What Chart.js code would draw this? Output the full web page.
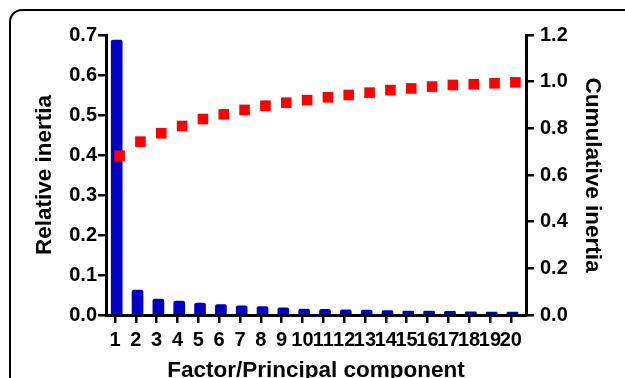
<!DOCTYPE html>
<html>
<head>
<meta charset="utf-8">
<script src="https://cdn.jsdelivr.net/npm/chart.js@4"></script>
<style>
  body { margin: 0; background: #fff; overflow: hidden; }
  #wrap { position: relative; width: 625px; height: 378px; overflow: hidden; }
  #frame {
    position: absolute; left: 9px; top: 9px; width: 660px; height: 420px;
    border: 2px solid #000; border-radius: 13px;
  }
  #chart { position: absolute; left: 0; top: 0; }
</style>
</head>
<body>
<div id="wrap">
  <div id="frame"></div>
  <canvas id="chart" width="625" height="378"></canvas>
</div>
<script>
const factors = [1, 2, 3, 4, 5, 6, 7, 8, 9, 10, 11, 12, 13, 14, 15, 16, 17, 18, 19, 20];
const relativeInertia = [0.687, 0.062, 0.040, 0.035, 0.030, 0.026, 0.023, 0.021, 0.018, 0.015,
                         0.014, 0.013, 0.012, 0.011, 0.010, 0.010, 0.009, 0.008, 0.007, 0.007];
const cumulativeInertia = [0.683, 0.743, 0.779, 0.810, 0.840, 0.860, 0.879, 0.897, 0.910, 0.921,
                           0.933, 0.943, 0.953, 0.964, 0.971, 0.979, 0.986, 0.989, 0.993, 0.997];
const leftTicks = [0, 0.1, 0.2, 0.3, 0.4, 0.5, 0.6, 0.7];
const rightTicks = [0, 0.2, 0.4, 0.6, 0.8, 1.0, 1.2];

const FONT = "'Liberation Sans', Arial, sans-serif";
const tickFont = { family: FONT, size: 20, weight: 'bold' };
const titleFont = { family: FONT, size: 22.5, weight: 'bold' };

const axisLine = {
  display: true, drawOnChartArea: false, drawTicks: true,
  tickLength: 8, color: '#000', lineWidth: 2.5
};
const axisBorder = { display: true, color: '#000', width: 3 };

const ctx = document.getElementById("chart").getContext("2d");

new Chart(ctx, {
  data: {
    datasets: [
      {
        type: "line",
        label: "Cumulative inertia",
        data: factors.map((f, i) => ({ x: f, y: cumulativeInertia[i] })),
        xAxisID: "xs",
        yAxisID: "y1",
        showLine: false,
        pointStyle: "rect",
        pointRadius: 7.5,
        pointBackgroundColor: "#ff0000",
        pointBorderWidth: 0,
        order: 0
      },
      {
        type: "bar",
        label: "Relative inertia",
        data: factors.map((f, i) => ({ x: f, y: relativeInertia[i] })),
        xAxisID: "xb",
        yAxisID: "y",
        backgroundColor: "#0000c4",
        barThickness: 11,
        borderRadius: 2,
        order: 1
      }
    ]
  },
  options: {
    responsive: false,
    animation: false,
    layout: { padding: { top: 35, left: 0, right: 0, bottom: 0 } },
    plugins: { legend: { display: false }, tooltip: { enabled: false } },
    scales: {
      x: {
        type: "linear",
        position: "bottom",
        offset: false,
        min: 0.568,
        max: 20.731,
        grid: axisLine,
        border: axisBorder,
        ticks: {
          stepSize: 1, includeBounds: false, autoSkip: false,
          maxRotation: 0, minRotation: 0, padding: 5,
          color: '#000', font: tickFont
        },
        title: {
          display: true, text: "Factor/Principal component",
          color: '#000', font: titleFont, padding: { top: 0, bottom: -6 }
        },
        afterFit: s => { s.height = 63; }
      },
      xb: { type: "linear", display: false, offset: false, min: 0.75, max: 20.913 },
      xs: { type: "linear", display: false, offset: false, min: 0.347, max: 20.51 },
      y: {
        position: "left",
        min: 0,
        max: 0.7,
        grid: axisLine,
        border: axisBorder,
        afterBuildTicks: s => { s.ticks = leftTicks.map(v => ({ value: v })); },
        ticks: { padding: 1, color: '#000', font: tickFont, callback: v => v.toFixed(1) },
        title: {
          display: true, text: "Relative inertia",
          color: '#000', font: titleFont, padding: { top: 31, bottom: 0 }
        },
        afterFit: s => { s.width = 106; }
      },
      y1: {
        position: "right",
        min: 0,
        max: 1.2,
        grid: axisLine,
        border: axisBorder,
        afterBuildTicks: s => { s.ticks = rightTicks.map(v => ({ value: v })); },
        ticks: { padding: 6, color: '#000', font: tickFont, callback: v => v.toFixed(1) },
        title: {
          display: true, text: "Cumulative inertia",
          color: '#000', font: titleFont, padding: { top: 19, bottom: 0 }
        },
        afterFit: s => { s.width = 99; }
      }
    }
  }
});
</script>
</body>
</html>
